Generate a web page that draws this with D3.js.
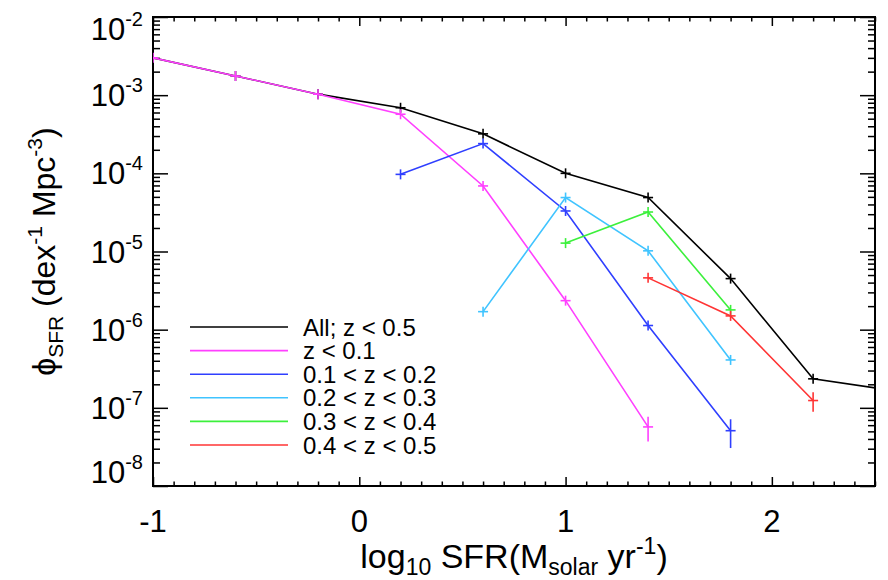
<!DOCTYPE html>
<html>
<head>
<meta charset="utf-8">
<script src="https://cdn.jsdelivr.net/npm/d3@7"></script>
<style>
  html, body { margin: 0; padding: 0; background: #fff; }
  svg { display: block; font-family: "Liberation Sans", Arial, Helvetica, sans-serif; }
</style>
</head>
<body>
<svg id="chart" width="888" height="580"></svg>
<script>
// ---------------- data ----------------
const seriesNames = ["All; z < 0.5", "z < 0.1", "0.1 < z < 0.2", "0.2 < z < 0.3", "0.3 < z < 0.4", "0.4 < z < 0.5"];
const seriesColors = ["#000000", "#ff40ff", "#2f3fff", "#40c4ff", "#3cf03c", "#ff3434"];

const xAll = [-1.0, -0.6, -0.2, 0.2, 0.6, 1.0, 1.4, 1.8, 2.2, 2.6];
const phiAll = [3.0e-3, 1.76e-3, 1.03e-3, 6.9e-4, 3.2e-4, 1.0e-4, 4.9e-5, 4.5e-6, 2.35e-7, 1.65e-7];
const errAll = [0.02, 0.02, 0.02, 0.03, 0.04, 0.05, 0.06, 0.06, 0.08, 0.1];

const xZ01 = [-1.0, -0.6, -0.2, 0.2, 0.6, 1.0, 1.4];
const phiZ01 = [3.0e-3, 1.76e-3, 1.03e-3, 5.7e-4, 6.9e-5, 2.35e-6, 5.7e-8];
const errZ01 = [0.02, 0.02, 0.02, 0.03, 0.05, 0.06, 0.35];

const xZ12 = [0.2, 0.6, 1.0, 1.4, 1.8];
const phiZ12 = [9.7e-5, 2.4e-4, 3.3e-5, 1.13e-6, 5.1e-8];
const errZ12 = [0.04, 0.04, 0.05, 0.08, 0.40];

const xZ23 = [0.6, 1.0, 1.4, 1.8];
const phiZ23 = [1.7e-6, 4.9e-5, 1.02e-5, 4.1e-7];
const errZ23 = [0.08, 0.06, 0.06, 0.08];

const xZ34 = [1.0, 1.4, 1.8];
const phiZ34 = [1.28e-5, 3.2e-5, 1.79e-6];
const errZ34 = [0.06, 0.06, 0.08];

const xZ45 = [1.4, 1.8, 2.2];
const phiZ45 = [4.6e-6, 1.5e-6, 1.24e-7];
const errZ45 = [0.08, 0.08, 0.28];

const xMajorTicks = [-1, 0, 1, 2];
const xTickLabels = ["-1", "0", "1", "2"];
const yMajorTicks = [1e-2, 1e-3, 1e-4, 1e-5, 1e-6, 1e-7, 1e-8];
const yTickExponents = ["-2", "-3", "-4", "-5", "-6", "-7", "-8"];

const xDomain = [-1, 2.5];
const yDomain = [1e-8, 1e-2];

// ---------------- layout ----------------
const L = 153, R = 875, T = 17, B = 486;
const svg = d3.select("#chart");
const x = d3.scaleLinear().domain(xDomain).range([L, R]);
const y = d3.scaleLog().domain(yDomain).range([B, T]);

const series = [
  { name: seriesNames[0], color: seriesColors[0], xs: xAll, ys: phiAll, es: errAll },
  { name: seriesNames[1], color: seriesColors[1], xs: xZ01, ys: phiZ01, es: errZ01 },
  { name: seriesNames[2], color: seriesColors[2], xs: xZ12, ys: phiZ12, es: errZ12 },
  { name: seriesNames[3], color: seriesColors[3], xs: xZ23, ys: phiZ23, es: errZ23 },
  { name: seriesNames[4], color: seriesColors[4], xs: xZ34, ys: phiZ34, es: errZ34 },
  { name: seriesNames[5], color: seriesColors[5], xs: xZ45, ys: phiZ45, es: errZ45 }
];

svg.append("defs").append("clipPath").attr("id", "plotclip")
  .append("rect").attr("x", L).attr("y", T).attr("width", R - L).attr("height", B - T);

// ---------------- axes (ticks inward on all four sides) ----------------
const xMinor = d3.range(-10, 26).map(d => d / 10).filter(d => !xMajorTicks.some(m => Math.abs(m - d) < 1e-9));
const yMinor = [];
for (let e = -8; e < -2; e++) for (let m = 2; m <= 9; m++) yMinor.push(m * Math.pow(10, e));

function styleAxis(g) {
  g.select(".domain").remove();
  g.selectAll("text").remove();
  g.selectAll("line").attr("stroke", "#000").attr("stroke-width", 1.5);
}
svg.append("g").attr("transform", `translate(0,${B})`)
  .call(d3.axisBottom(x).tickValues(xMajorTicks).tickSize(-9).tickFormat("")).call(styleAxis);
svg.append("g").attr("transform", `translate(0,${B})`)
  .call(d3.axisBottom(x).tickValues(xMinor).tickSize(-4.5).tickFormat("")).call(styleAxis);
svg.append("g").attr("transform", `translate(0,${T})`)
  .call(d3.axisTop(x).tickValues(xMajorTicks).tickSize(-9).tickFormat("")).call(styleAxis);
svg.append("g").attr("transform", `translate(0,${T})`)
  .call(d3.axisTop(x).tickValues(xMinor).tickSize(-4.5).tickFormat("")).call(styleAxis);
svg.append("g").attr("transform", `translate(${L},0)`)
  .call(d3.axisLeft(y).tickValues(yMajorTicks).tickSize(-15).tickFormat("")).call(styleAxis);
svg.append("g").attr("transform", `translate(${L},0)`)
  .call(d3.axisLeft(y).tickValues(yMinor).tickSize(-7).tickFormat("")).call(styleAxis);
svg.append("g").attr("transform", `translate(${R},0)`)
  .call(d3.axisRight(y).tickValues(yMajorTicks).tickSize(-15).tickFormat("")).call(styleAxis);
svg.append("g").attr("transform", `translate(${R},0)`)
  .call(d3.axisRight(y).tickValues(yMinor).tickSize(-7).tickFormat("")).call(styleAxis);

// frame
svg.append("rect").attr("x", L).attr("y", T).attr("width", R - L).attr("height", B - T)
  .attr("fill", "none").attr("stroke", "#000").attr("stroke-width", 2);

// x tick labels
svg.append("g").selectAll("text").data(xMajorTicks).join("text")
  .attr("x", d => x(d)).attr("y", 532)
  .attr("text-anchor", "middle").attr("font-size", 31).attr("fill", "#000")
  .text((d, i) => xTickLabels[i]);

// y tick labels
const yl = svg.append("g").selectAll("text").data(yMajorTicks).join("text")
  .attr("x", 143)
  .attr("y", (d, i) => {
    if (i === 0) return y(d) + 23;
    if (i === yMajorTicks.length - 1) return y(d) - 3;
    return y(d) + 11;
  })
  .attr("text-anchor", "end").attr("font-size", 31).attr("fill", "#000");
yl.append("tspan").text("10");
yl.append("tspan").attr("dy", -14).attr("font-size", 20).text((d, i) => yTickExponents[i]);

// x title
const xt = svg.append("text").attr("x", (L + R) / 2).attr("y", 568)
  .attr("text-anchor", "middle").attr("font-size", 34).attr("fill", "#000");
xt.append("tspan").text("log");
xt.append("tspan").attr("dy", 7).attr("font-size", 23).text("10");
xt.append("tspan").attr("dy", -7).text(" SFR(M");
xt.append("tspan").attr("dy", 7).attr("font-size", 23).text("solar");
xt.append("tspan").attr("dy", -7).text(" yr");
xt.append("tspan").attr("dy", -14).attr("font-size", 23).text("-1");
xt.append("tspan").attr("dy", 14).text(")");

// y title
const yt = svg.append("text").attr("transform", `translate(55,${(T + B) / 2}) rotate(-90)`)
  .attr("text-anchor", "middle").attr("font-size", 32).attr("fill", "#000");
yt.append("tspan").text("\u03D5");
yt.append("tspan").attr("dy", 8).attr("font-size", 21).text("SFR");
yt.append("tspan").attr("dy", -8).text(" (dex");
yt.append("tspan").attr("dy", -13).attr("font-size", 21).text("-1");
yt.append("tspan").attr("dy", 13).text(" Mpc");
yt.append("tspan").attr("dy", -13).attr("font-size", 21).text("-3");
yt.append("tspan").attr("dy", 13).text(")");

// ---------------- data marks ----------------
const plot = svg.append("g").attr("clip-path", "url(#plotclip)");
const line = d3.line().x(d => x(d.x)).y(d => y(d.y));
const armH = 5, armV = 5;

series.forEach(s => {
  const pts = s.xs.map((xv, i) => ({ x: xv, y: s.ys[i], e: s.es[i] }));
  const g = plot.append("g");
  g.append("path").datum(pts).attr("d", line)
    .attr("fill", "none").attr("stroke", s.color).attr("stroke-width", 1.6);
  g.selectAll("line.h").data(pts).join("line").attr("class", "h")
    .attr("x1", d => x(d.x) - armH).attr("x2", d => x(d.x) + armH)
    .attr("y1", d => y(d.y)).attr("y2", d => y(d.y))
    .attr("stroke", s.color).attr("stroke-width", 1.6);
  g.selectAll("line.v").data(pts).join("line").attr("class", "v")
    .attr("x1", d => x(d.x)).attr("x2", d => x(d.x))
    .attr("y1", d => Math.min(y(d.y) - armV, y(d.y * (1 + d.e))))
    .attr("y2", d => Math.max(y(d.y) + armV, y(d.y * (1 - d.e))))
    .attr("stroke", s.color).attr("stroke-width", 1.6);
});

// ---------------- legend ----------------
const lg = svg.append("g");
series.forEach((s, i) => {
  const ry = 327 + i * 23.6;
  lg.append("line").attr("x1", 190).attr("x2", 288).attr("y1", ry).attr("y2", ry)
    .attr("stroke", s.color).attr("stroke-width", 1.6);
  lg.append("text").attr("x", 303).attr("y", ry + 8.5)
    .attr("font-size", 24).attr("fill", "#000").text(s.name);
});
</script>
</body>
</html>
